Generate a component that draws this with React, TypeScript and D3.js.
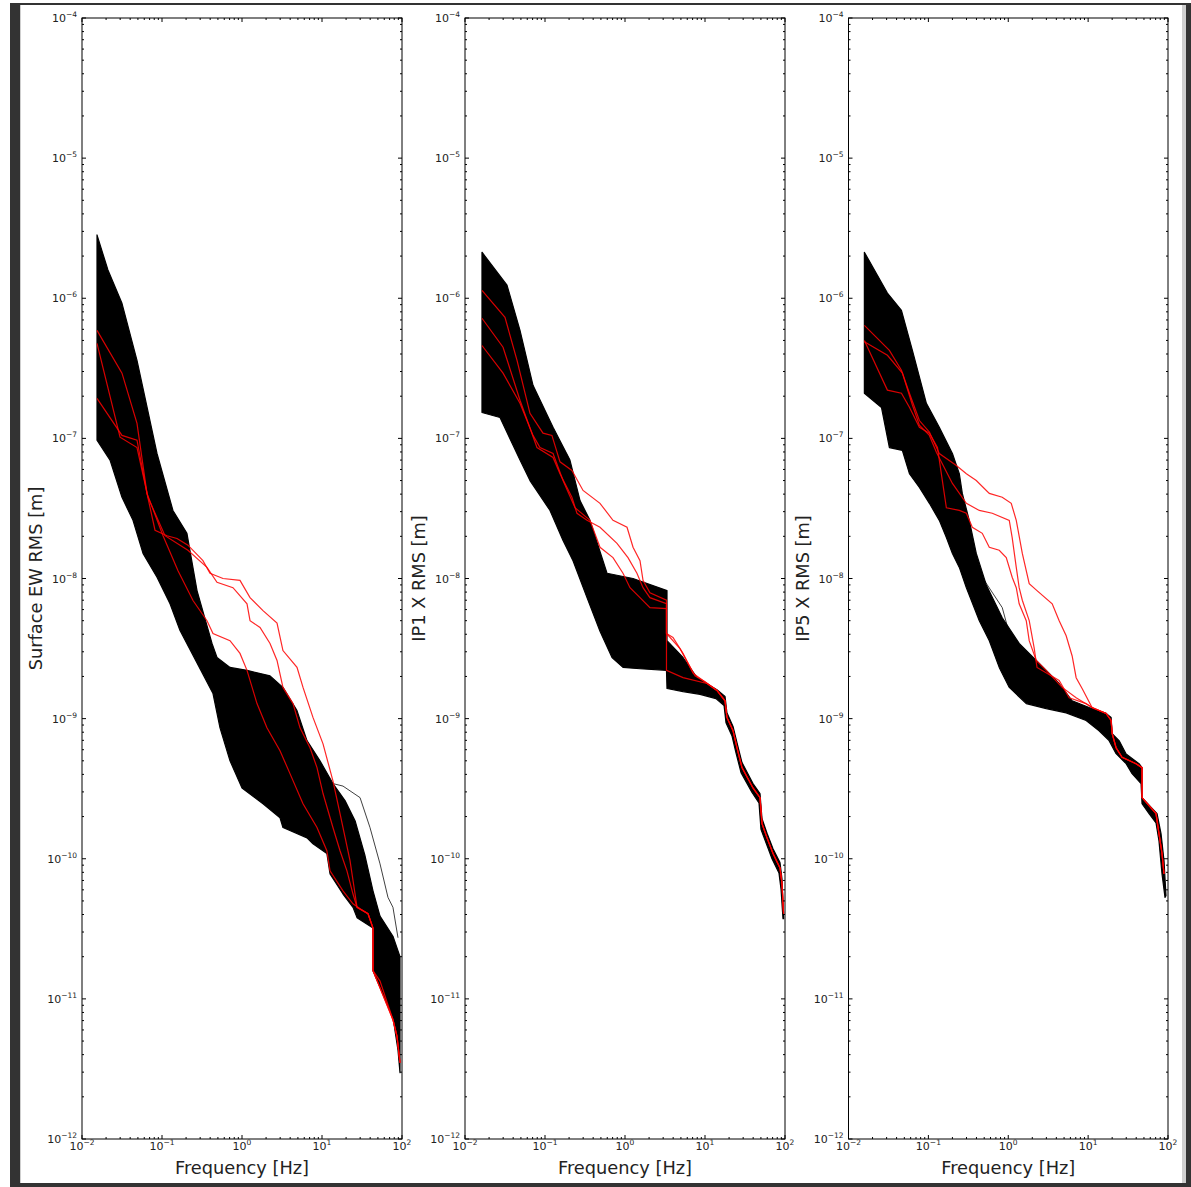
import React, { useEffect, useRef } from 'react';
import * as d3 from 'd3';

type Pt = [number, number];

const W = 1191;
const H = 1187;

const xTickValues = [1e-2, 1e-1, 1e0, 1e1, 1e2];
const xTickExps = ['\u22122', '\u22121', '0', '1', '2'];
const yTickValues = [1e-12, 1e-11, 1e-10, 1e-9, 1e-8, 1e-7, 1e-6, 1e-5, 1e-4];
const yTickExps = ['\u221212', '\u221211', '\u221210', '\u22129', '\u22128', '\u22127', '\u22126', '\u22125', '\u22124'];
const yLabels = ['Surface EW RMS [m]', 'IP1 X RMS [m]', 'IP5 X RMS [m]'];
const xLabel = 'Frequency [Hz]';

// ---- Surface EW: envelope of the black bundle, one stray line, three red traces
const surfaceUpper: Pt[] = [[0.0154,2.83e-6],[0.0211,1.59e-6],[0.0316,9.2e-7],[0.0487,3.6e-7],[0.0866,7.8e-8],[0.137,3.06e-8],[0.205,2.1e-8],[0.274,8.2e-9],[0.422,3.44e-9],[0.487,2.73e-9],[0.708,2.32e-9],[1.155,2.21e-9],[2.24,2.02e-9],[3.25,1.67e-9],[4.87,1.14e-9],[6.49,6.97e-10],[9.44,5.0e-10],[13.7,3.44e-10],[19.4,2.6e-10],[25.9,1.87e-10],[34.5,1.05e-10],[43.4,5.9e-11],[53.1,3.9e-11],[77.1,2.8e-11],[94.4,2.0e-11]];
const surfaceLower: Pt[] = [[0.0154,9.7e-8],[0.0224,7.0e-8],[0.0316,3.8e-8],[0.0434,2.6e-8],[0.0579,1.51e-8],[0.0866,1.02e-8],[0.126,6.6e-9],[0.168,4.25e-9],[0.274,2.5e-9],[0.434,1.51e-9],[0.531,8.6e-10],[0.708,5.0e-10],[1.0,3.2e-10],[1.83,2.47e-10],[2.985,1.96e-10],[3.25,1.67e-10],[6.49,1.41e-10],[7.71,1.28e-10],[11.5,1.09e-10],[12.6,7.8e-11],[18.3,5.6e-11],[24.4,4.5e-11],[27.4,3.8e-11],[43.4,3.2e-11],[43.4,1.59e-11],[77.1,7.4e-12],[89.1,4.3e-12],[94.4,2.97e-12]];
const surfaceStray: Pt[] = [[13.7,3.44e-10],[18.3,3.3e-10],[29.9,2.73e-10],[39.8,1.67e-10],[53.1,9.2e-11],[66.8,5.3e-11],[77.1,4.5e-11],[89.1,2.73e-11]];
const surfaceRedA: Pt[] = [[0.0154,5.9e-7],[0.0316,2.92e-7],[0.0487,1.28e-7],[0.0649,4.05e-8],[0.0818,2.21e-8],[0.1155,2.02e-8],[0.154,1.93e-8],[0.211,1.73e-8],[0.325,1.34e-8],[0.398,1.09e-8],[0.579,1.0e-8],[0.944,9.7e-9],[1.26,7.3e-9],[1.83,5.9e-9],[2.74,4.8e-9],[3.25,3.06e-9],[4.87,2.32e-9],[5.79,1.67e-9],[7.71,1.02e-9],[10.3,6.6e-10],[13.7,3.6e-10],[16.8,2.1e-10],[22.4,9.7e-11],[25.9,5.6e-11],[27.4,4.5e-11],[37.6,4.05e-11],[43.4,3.2e-11],[43.4,1.59e-11],[77.1,7.1e-12],[86.6,5.4e-12],[94.4,3.5e-12]];
const surfaceRedB: Pt[] = [[0.0154,4.77e-7],[0.0299,1.02e-7],[0.0487,8.6e-8],[0.0668,3.8e-8],[0.109,2.02e-8],[0.211,1.59e-8],[0.365,1.2e-8],[0.487,9.4e-9],[0.771,8.6e-9],[1.155,6.6e-9],[1.26,5.0e-9],[1.68,4.47e-9],[2.24,3.44e-9],[2.74,2.6e-9],[3.25,1.67e-9],[4.34,1.28e-9],[5.31,8.6e-10],[7.08,6.2e-10],[8.66,4.47e-10],[10.3,2.92e-10],[13.7,1.67e-10],[16.8,1.14e-10],[20.5,8.2e-11],[24.4,5.6e-11],[27.4,4.5e-11],[37.6,4.05e-11],[43.4,3.2e-11],[43.4,1.59e-11],[77.1,7.1e-12],[86.6,5.4e-12],[94.4,3.5e-12]];
const surfaceRedC: Pt[] = [[0.0154,1.93e-7],[0.0316,1.05e-7],[0.0487,9.7e-8],[0.0649,4.05e-8],[0.103,2.02e-8],[0.158,1.14e-8],[0.244,6.97e-9],[0.365,5.0e-9],[0.434,4.05e-9],[0.708,3.6e-9],[0.944,2.92e-9],[1.155,2.21e-9],[1.54,1.28e-9],[2.05,8.6e-10],[2.985,5.9e-10],[3.98,4.05e-10],[5.79,2.47e-10],[8.66,1.67e-10],[11.5,1.14e-10],[12.6,8.2e-11],[18.3,5.9e-11],[24.4,4.77e-11],[29.9,4.4e-11],[37.6,4.05e-11],[43.4,3.2e-11],[43.4,1.59e-11],[53.1,1.34e-11],[77.1,7.1e-12],[86.6,5.4e-12],[94.4,3.5e-12]];

// ---- IP1 X
const ip1Upper: Pt[] = [[0.0163,2.13e-6],[0.0335,1.24e-6],[0.0487,5.9e-7],[0.0708,2.39e-7],[0.126,1.2e-7],[0.205,7.0e-8],[0.274,3.6e-8],[0.365,2.6e-8],[0.596,1.09e-8],[1.26,1.0e-8],[3.35,8.2e-9],[3.35,3.6e-9],[5.31,2.73e-9],[7.94,1.96e-9],[14.1,1.61e-9],[17.8,1.44e-9],[18.8,1.1e-9],[22.4,8.8e-10],[25.1,6.75e-10],[29.0,4.86e-10],[39.8,3.44e-10],[48.7,2.92e-10],[51.6,1.93e-10],[59.6,1.52e-10],[70.8,1.18e-10],[86.6,9.4e-11],[91.7,7.2e-11],[96,3.73e-11]];
const ip1Lower: Pt[] = [[0.0163,1.53e-7],[0.0274,1.41e-7],[0.0487,7.0e-8],[0.0649,5.0e-8],[0.1155,3.06e-8],[0.168,1.87e-8],[0.224,1.34e-8],[0.335,7.3e-9],[0.487,4.2e-9],[0.688,2.73e-9],[0.944,2.32e-9],[1.54,2.27e-9],[3.3,2.21e-9],[3.35,1.64e-9],[5.31,1.56e-9],[8.66,1.49e-9],[13.7,1.39e-9],[17.3,1.24e-9],[18.3,9.36e-10],[21.7,7.56e-10],[24.4,5.7e-10],[28.2,4.12e-10],[38.7,2.97e-10],[47.3,2.5e-10],[50.1,1.62e-10],[57.9,1.3e-10],[68.8,1.0e-10],[84.1,7.9e-11],[89.1,6.1e-11],[94.4,3.73e-11]];
const ip1RedTail: Pt[] = [[17.8,1.34e-9],[18.8,1.02e-9],[22.4,8.2e-10],[25.1,6.2e-10],[29.0,4.47e-10],[39.8,3.2e-10],[48.7,2.73e-10],[51.6,1.78e-10],[59.6,1.41e-10],[70.8,1.09e-10],[86.6,8.6e-11],[91.7,6.63e-11],[96,4.05e-11]];
const ip1RedA: Pt[] = [[0.0163,1.14e-6],[0.0316,7.3e-7],[0.0447,3.6e-7],[0.0649,1.51e-7],[0.0944,1.09e-7],[0.122,1.05e-7],[0.154,6.8e-8],[0.217,5.9e-8],[0.299,4.25e-8],[0.487,3.44e-8],[0.708,2.6e-8],[1.06,2.32e-8],[1.26,1.67e-8],[1.54,1.34e-8],[1.68,9.7e-9],[2.05,7.9e-9],[3.3,7.0e-9],[3.3,4.05e-9],[3.98,3.8e-9],[5.31,2.92e-9],[7.08,2.11e-9],[9.44,1.87e-9],[14.1,1.59e-9]];
const ip1RedB: Pt[] = [[0.0163,7.2e-7],[0.0299,4.47e-7],[0.0487,1.87e-7],[0.0794,8.6e-8],[0.126,7.3e-8],[0.154,5.6e-8],[0.217,3.8e-8],[0.251,2.92e-8],[0.335,2.6e-8],[0.487,2.32e-8],[0.794,1.78e-8],[1.09,1.41e-8],[1.41,1.09e-8],[1.68,8.6e-9],[2.05,7.3e-9],[3.3,6.6e-9],[3.3,4.05e-9],[4.87,3.16e-9],[7.5,2.02e-9],[10,1.83e-9],[14.1,1.59e-9]];
const ip1RedC: Pt[] = [[0.0163,4.6e-7],[0.0299,2.92e-7],[0.0487,1.78e-7],[0.0708,1.05e-7],[0.0866,8.6e-8],[0.126,7.8e-8],[0.168,5.0e-8],[0.237,3.2e-8],[0.365,2.6e-8],[0.487,1.67e-8],[0.708,1.41e-8],[0.944,1.09e-8],[1.155,8.6e-9],[1.54,7.3e-9],[2.05,6.2e-9],[3.3,6.1e-9],[3.3,2.21e-9],[5.31,1.96e-9],[10.6,1.78e-9],[14.1,1.59e-9]];

// ---- IP5 X
const ip5Upper: Pt[] = [[0.0158,2.13e-6],[0.0307,1.09e-6],[0.046,8.2e-7],[0.0631,4.25e-7],[0.0944,1.78e-7],[0.137,1.2e-7],[0.2,7.8e-8],[0.244,5.6e-8],[0.266,4.05e-8],[0.325,2.6e-8],[0.398,1.51e-8],[0.531,9.0e-9],[0.841,5.25e-9],[1.37,3.44e-9],[2.24,2.6e-9],[4.34,1.78e-9],[6.31,1.34e-9],[10.3,1.2e-9],[16.8,1.09e-9],[19.4,1.02e-9],[20.0,7.8e-10],[24.4,6.97e-10],[29.9,5.6e-10],[43.4,4.77e-10],[47.3,4.47e-10],[47.3,2.73e-10],[72.9,2.1e-10],[81.8,1.51e-10],[89.1,9.7e-11],[94.4,5.45e-11]];
const ip5Lower: Pt[] = [[0.0158,2.1e-7],[0.0259,1.66e-7],[0.0325,8.6e-8],[0.0473,8.2e-8],[0.0579,5.6e-8],[0.0772,4.47e-8],[0.103,3.44e-8],[0.137,2.6e-8],[0.168,1.96e-8],[0.2,1.51e-8],[0.244,1.2e-8],[0.299,8.6e-9],[0.434,5.0e-9],[0.579,3.6e-9],[0.771,2.32e-9],[1.03,1.67e-9],[1.68,1.28e-9],[2.985,1.18e-9],[5.31,1.1e-9],[9.44,9.7e-10],[13.7,8.2e-10],[18.3,6.97e-10],[22.4,5.62e-10],[29.9,4.77e-10],[35.5,4.05e-10],[46,3.44e-10],[47.3,2.47e-10],[57.9,2.1e-10],[70.8,1.8e-10],[77.1,1.34e-10],[84.1,7.8e-11],[91.7,5.3e-11]];
const ip5Stray: Pt[] = [[0.325,1.87e-8],[0.473,1.02e-8],[0.841,6.2e-9],[1.03,4.05e-9],[1.37,3.2e-9],[2.11,2.6e-9]];
const ip5RedTail: Pt[] = [[16.8,1.09e-9],[19.4,9.7e-10],[20.0,7.8e-10],[22.4,6.2e-10],[26.6,5.3e-10],[39.8,4.77e-10],[47.3,4.47e-10],[47.3,2.73e-10],[70.8,2.1e-10],[77.1,1.51e-10],[84.1,1.09e-10],[89.1,7.8e-11]];
const ip5RedA: Pt[] = [[0.0158,6.4e-7],[0.0325,4.25e-7],[0.046,3.06e-7],[0.0579,2.1e-7],[0.0772,1.34e-7],[0.103,1.11e-7],[0.137,7.8e-8],[0.224,6.4e-8],[0.299,5.6e-8],[0.398,5.0e-8],[0.579,4.05e-8],[0.841,3.8e-8],[1.09,3.44e-8],[1.26,2.6e-8],[1.5,1.51e-8],[1.83,9.2e-9],[2.29,8.2e-9],[3.55,6.6e-9],[4.34,5.0e-9],[5.31,3.9e-9],[6.31,2.8e-9],[7.08,1.96e-9],[8.41,1.64e-9],[11.2,1.2e-9]];
const ip5RedB: Pt[] = [[0.0158,5.0e-7],[0.0307,2.21e-7],[0.046,2.1e-7],[0.0579,1.67e-7],[0.0772,1.2e-7],[0.103,1.09e-7],[0.13,8.6e-8],[0.168,3.2e-8],[0.244,3.06e-8],[0.299,2.92e-8],[0.355,2.32e-8],[0.473,2.1e-8],[0.579,1.67e-8],[0.771,1.59e-8],[0.944,1.41e-8],[1.12,1.02e-8],[1.26,8.6e-9],[1.37,6.6e-9],[1.68,5.0e-9],[1.83,3.6e-9],[2.24,2.6e-9],[2.985,2.21e-9],[4.73,1.67e-9],[7.08,1.41e-9],[11.2,1.2e-9]];
const ip5RedC: Pt[] = [[0.0158,4.9e-7],[0.0307,3.92e-7],[0.0473,2.92e-7],[0.0631,1.73e-7],[0.0772,1.24e-7],[0.103,1.05e-7],[0.126,7.95e-8],[0.2,4.77e-8],[0.299,3.44e-8],[0.434,3.06e-8],[0.631,2.92e-8],[1.03,2.6e-8],[1.12,1.96e-8],[1.26,1.2e-8],[1.37,8.6e-9],[1.5,7.0e-9],[1.83,5.0e-9],[2.11,3.2e-9],[2.29,2.32e-9],[4.34,1.87e-9],[5.79,1.41e-9],[9.44,1.28e-9],[11.2,1.2e-9]];

const panels = [
  { left: 82, width: 320, label: yLabels[0], upper: surfaceUpper, lower: surfaceLower, stray: [surfaceStray], red: [surfaceRedA, surfaceRedB, surfaceRedC] },
  { left: 465, width: 320, label: yLabels[1], upper: ip1Upper, lower: ip1Lower, stray: [], red: [ip1RedA, ip1RedB, ip1RedC].map(r => r.concat(ip1RedTail)) },
  { left: 848.5, width: 319.5, label: yLabels[2], upper: ip5Upper, lower: ip5Lower, stray: [ip5Stray], red: [ip5RedA, ip5RedB, ip5RedC].map(r => r.concat(ip5RedTail)) },
];

const top = 18;
const bottom = 1139;
const font = 'DejaVu Sans, Verdana, sans-serif';

export default function App() {
  const ref = useRef<SVGSVGElement>(null);

  useEffect(() => {
    const svg = d3.select(ref.current);
    svg.selectAll('*').remove();

    // window frame
    svg.append('rect').attr('x', 10).attr('y', 3).attr('width', W - 10).attr('height', H - 3).attr('fill', '#333');
    svg.append('rect').attr('x', 20).attr('y', 5).attr('width', 1166).attr('height', 1178).attr('fill', '#cfcfcf');
    svg.append('rect').attr('x', 21).attr('y', 5).attr('width', 1161).attr('height', 1178).attr('fill', '#fff');

    const y = d3.scaleLog().domain([1e-12, 1e-4]).range([bottom, top]);

    panels.forEach(p => {
      const x = d3.scaleLog().domain([1e-2, 1e2]).range([p.left, p.left + p.width]);
      const g = svg.append('g');
      const line = d3.line<Pt>().x(d => x(d[0])).y(d => y(d[1]));

      // black bundle
      const poly = p.upper.concat(p.lower.slice().reverse());
      g.append('path')
        .attr('d', line(poly) + 'Z')
        .attr('fill', '#000')
        .attr('stroke', '#000')
        .attr('stroke-width', 1.2)
        .attr('stroke-linejoin', 'round');

      g.selectAll('path.stray')
        .data(p.stray)
        .join('path')
        .attr('class', 'stray')
        .attr('d', d => line(d))
        .attr('fill', 'none')
        .attr('stroke', '#000')
        .attr('stroke-opacity', 0.75)
        .attr('stroke-width', 1);

      g.selectAll('path.red')
        .data(p.red)
        .join('path')
        .attr('class', 'red')
        .attr('d', d => line(d))
        .attr('fill', 'none')
        .attr('stroke', '#ff0000')
        .attr('stroke-opacity', 0.85)
        .attr('stroke-width', 1.2);

      // spines
      g.append('rect')
        .attr('x', p.left).attr('y', top)
        .attr('width', p.width).attr('height', bottom - top)
        .attr('fill', 'none').attr('stroke', '#000').attr('stroke-width', 1);

      const isMajor = (v: number) => Math.abs(Math.log10(v) - Math.round(Math.log10(v))) < 1e-6;

      // ticks inward on all four sides
      x.ticks().forEach(t => {
        const len = isMajor(t) ? 4 : 2;
        const xx = x(t);
        g.append('line').attr('x1', xx).attr('x2', xx).attr('y1', bottom).attr('y2', bottom - len).attr('stroke', '#000');
        g.append('line').attr('x1', xx).attr('x2', xx).attr('y1', top).attr('y2', top + len).attr('stroke', '#000');
      });
      y.ticks().forEach(t => {
        const len = isMajor(t) ? 4 : 2;
        const yy = y(t);
        g.append('line').attr('x1', p.left).attr('x2', p.left + len).attr('y1', yy).attr('y2', yy).attr('stroke', '#000');
        g.append('line').attr('x1', p.left + p.width).attr('x2', p.left + p.width - len).attr('y1', yy).attr('y2', yy).attr('stroke', '#000');
      });

      // tick labels
      xTickValues.forEach((t, i) => {
        const txt = g.append('text')
          .attr('x', x(t)).attr('y', bottom + 11)
          .attr('text-anchor', 'middle')
          .attr('font-family', font).attr('font-size', 11).attr('fill', '#222');
        txt.append('tspan').text('10');
        txt.append('tspan').attr('dy', -5).attr('font-size', 7.5).text(xTickExps[i]);
      });
      yTickValues.forEach((t, i) => {
        const txt = g.append('text')
          .attr('x', p.left - 5).attr('y', y(t) + 4)
          .attr('text-anchor', 'end')
          .attr('font-family', font).attr('font-size', 11).attr('fill', '#222');
        txt.append('tspan').text('10');
        txt.append('tspan').attr('dy', -5).attr('font-size', 7.5).text(yTickExps[i]);
      });

      // axis titles
      g.append('text')
        .attr('x', p.left + p.width / 2).attr('y', 1174)
        .attr('text-anchor', 'middle')
        .attr('font-family', font).attr('font-size', 17.8).attr('fill', '#222')
        .text(xLabel);
      g.append('text')
        .attr('transform', `translate(${p.left - 40},${(top + bottom) / 2}) rotate(-90)`)
        .attr('text-anchor', 'middle')
        .attr('font-family', font).attr('font-size', 17.8).attr('fill', '#222')
        .text(p.label);
    });
  }, []);

  return <svg ref={ref} width={W} height={H} style={{ position: 'absolute', left: 0, top: 0, background: '#fff' }} />;
}
